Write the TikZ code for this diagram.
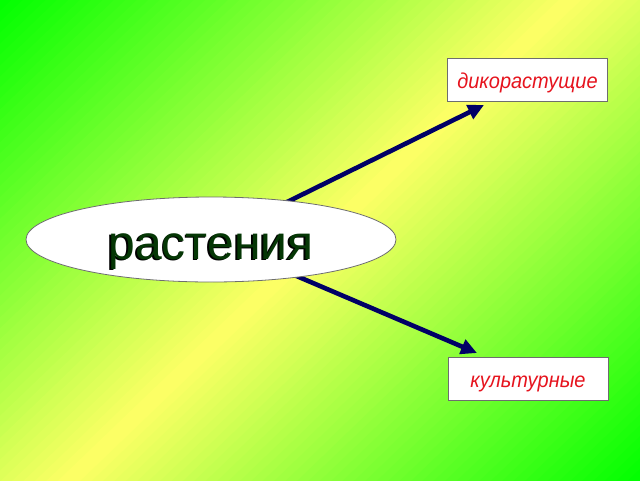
\documentclass[tikz,border=0pt]{standalone}
\usepackage{fontspec}
\setmainfont{Liberation Sans}
\newfontfamily\labelfont[FakeStretch=0.93]{Liberation Sans}
\usetikzlibrary{arrows.meta,shapes.geometric}
\definecolor{bgreen}{RGB}{0,255,0}
\definecolor{byellow}{RGB}{255,255,102}
\definecolor{navyarrow}{RGB}{0,0,102}
\definecolor{labelred}{RGB}{230,20,30}
\definecolor{darkleaf}{RGB}{5,55,5}
\definecolor{edgegray}{RGB}{110,110,110}
\newcommand{\plantshadow}[1]{\leavevmode\rlap{\kern-1.6pt\raisebox{-1.6pt}{\color{black}#1}}#1}
\pgfdeclarelayer{bglayer}
\pgfdeclarelayer{arrowlayer}
\pgfsetlayers{bglayer,arrowlayer,main}
\begin{document}
\begin{tikzpicture}[x=1pt,y=-1pt,
  bubble/.style={ellipse, draw=edgegray, line width=0.8pt, fill=white,
    minimum width=370pt, minimum height=85pt, inner sep=0pt,
    text=darkleaf, font=\fontsize{48}{56}\selectfont,
    text height=39pt, text depth=0pt},
  labelbox/.style={rectangle, draw=edgegray, line width=1pt, fill=white,
    minimum width=160pt, minimum height=43pt, inner sep=0pt,
    text=labelred, font=\labelfont\fontsize{21.5}{26}\selectfont\itshape,
    text height=17pt, text depth=0pt},
  arrowline/.style={draw=navyarrow, line width=4.6pt,
    -{Triangle[length=16pt,width=15pt]}},
  ]
\useasboundingbox (0,0) rectangle (640,480);
\begin{pgfonlayer}{bglayer}
\begin{scope}
\clip (0,0) rectangle (640,480);
\foreach \i in {0,...,99}{
  \pgfmathsetmacro{\xa}{11.4*\i}
  \pgfmathsetmacro{\xb}{11.4*(\i+1.8)}
  \pgfmathtruncatemacro{\pct}{round(100*(1-abs(2*(\i+0.5)/100-1)))}
  \fill[byellow!\pct!bgreen] (\xa+20.83,-20) -- (\xb+20.83,-20)
     -- (\xb-520.83,500) -- (\xa-520.83,500) -- cycle;
}
\end{scope}
\end{pgfonlayer}

\node[bubble] (plants) at (211,239.5) {\plantshadow{растения}};
\node[labelbox] (wild) at (527.5,79.5) {дикорастущие};
\node[labelbox] (cult) at (528,378.5) {культурные};
\coordinate (wildtip) at (484,105);
\coordinate (culttip) at (477,353);

\begin{pgfonlayer}{arrowlayer}
\draw[arrowline] (plants.center) -- (wildtip);
\draw[arrowline] (plants.center) -- (culttip);
\end{pgfonlayer}
\end{tikzpicture}
\end{document}
